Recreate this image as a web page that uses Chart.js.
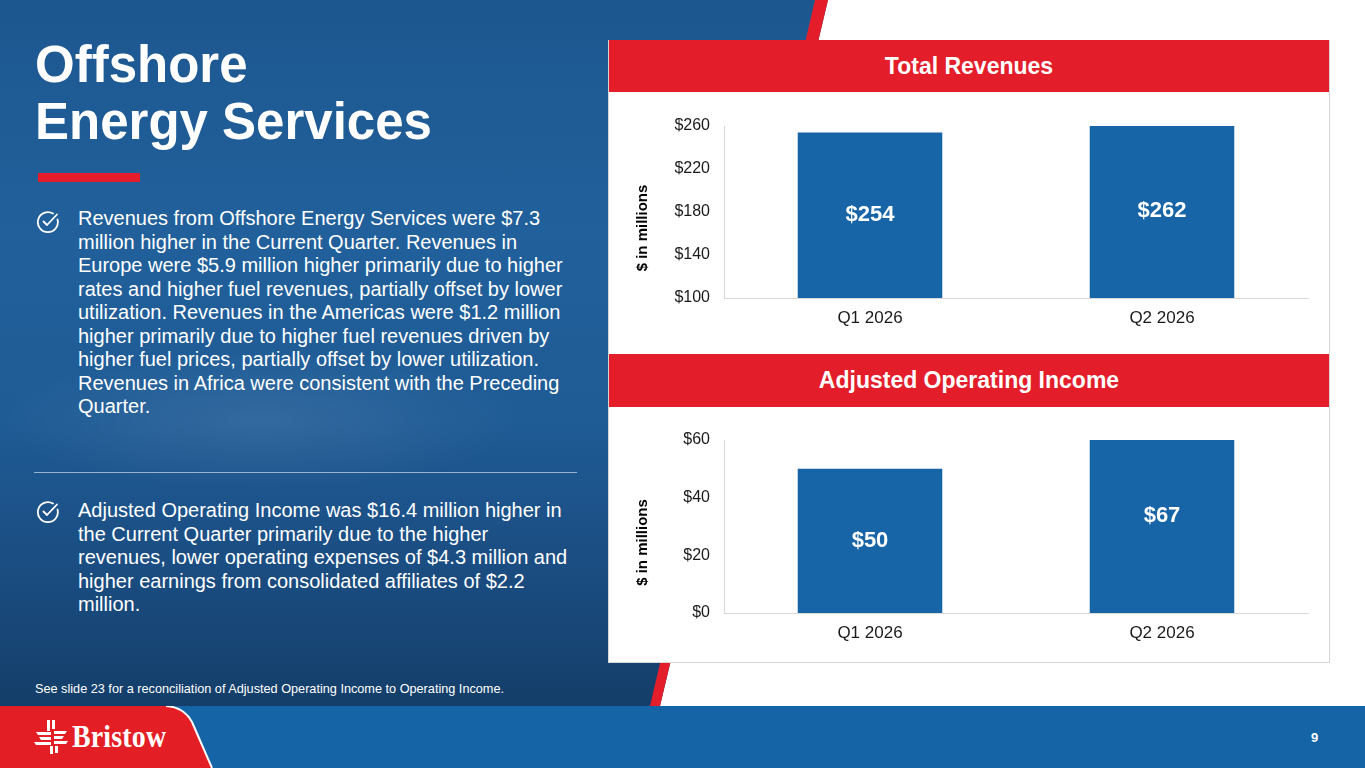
<!DOCTYPE html>
<html>
<head>
<meta charset="utf-8">
<title>Offshore Energy Services</title>
<script src="https://cdn.jsdelivr.net/npm/chart.js@4.4.1/dist/chart.umd.min.js"></script>
<style>
  html, body { margin: 0; padding: 0; }
  body {
    width: 1365px; height: 768px; overflow: hidden; position: relative;
    font-family: "Liberation Sans", Arial, sans-serif; color: #fff;
    background: linear-gradient(180deg, #1d5790 0%, #21609b 30%, #1f5b95 55%, #1a4c80 75%, #143e69 92%);
  }
  .abs { position: absolute; }
  #bg { left: 0; top: 0; }
  .title { left: 35px; top: 36px; font-size: 51px; line-height: 57px; font-weight: bold; }
  .rule { left: 38px; top: 173px; width: 102px; height: 9px; background: #e31e2a; }
  .para { left: 78px; font-size: 20px; line-height: 23.5px; }
  .check { left: 36px; width: 24px; height: 24px; }
  .divider { left: 34px; top: 472px; width: 543px; height: 1px; background: rgba(190, 212, 234, 0.75); }
  .foot { left: 35px; top: 682px; font-size: 12.7px; line-height: 14px; }
  .panel { left: 608px; top: 40px; width: 720px; height: 621px; background: #fff; border: 1px solid #d6d6d6; }
  .hdr {
    left: 609px; width: 720px; background: #e31e2a; color: #fff; font-weight: bold; font-size: 23px;
    display: flex; align-items: center; justify-content: center;
  }
  canvas { position: absolute; }
  .band { left: 0; top: 706px; width: 1365px; height: 62px; }
  .brand { left: 72px; top: 719px; font-family: "Liberation Serif", serif; font-weight: bold; font-size: 31px;
    transform: scaleX(0.9); transform-origin: left top; letter-spacing: 0.2px; }
  .page { left: 1311px; top: 730px; font-size: 13px; font-weight: bold; }
</style>
</head>
<body>

<svg id="bg" class="abs" width="1365" height="768">
  <defs>
    <radialGradient id="glow" cx="0.5" cy="0.5" r="0.5">
      <stop offset="0" stop-color="#ffffff" stop-opacity="0.09"></stop>
      <stop offset="1" stop-color="#ffffff" stop-opacity="0"></stop>
    </radialGradient>
  </defs>
  <ellipse cx="260" cy="420" rx="260" ry="70" fill="url(#glow)"></ellipse>
  <polygon points="828,0 1365,0 1365,706 660,706" fill="#ffffff"></polygon>
  <polygon points="815,0 828,0 660,706 650,706" fill="#e31e2a"></polygon>
</svg>

<div class="abs title">Offshore<br>Energy Services</div>
<div class="abs rule"></div>

<svg class="abs check" style="top:210px" viewBox="0 0 24 24">
  <path d="M21.5 9.5 A10 10 0 1 1 17 3.6" fill="none" stroke="#fff" stroke-width="1.8" stroke-linecap="round"></path>
  <path d="M7.5 11.5 L11 15 L21 4.5" fill="none" stroke="#fff" stroke-width="1.8" stroke-linecap="round" stroke-linejoin="round"></path>
</svg>
<div class="abs para" style="top:207px">Revenues from Offshore Energy Services were $7.3<br>million higher in the Current Quarter. Revenues in<br>Europe were $5.9 million higher primarily due to higher<br>rates and higher fuel revenues, partially offset by lower<br>utilization. Revenues in the Americas were $1.2 million<br>higher primarily due to higher fuel revenues driven by<br>higher fuel prices, partially offset by lower utilization.<br>Revenues in Africa were consistent with the Preceding<br>Quarter.</div>

<div class="abs divider"></div>

<svg class="abs check" style="top:500px" viewBox="0 0 24 24">
  <path d="M21.5 9.5 A10 10 0 1 1 17 3.6" fill="none" stroke="#fff" stroke-width="1.8" stroke-linecap="round"></path>
  <path d="M7.5 11.5 L11 15 L21 4.5" fill="none" stroke="#fff" stroke-width="1.8" stroke-linecap="round" stroke-linejoin="round"></path>
</svg>
<div class="abs para" style="top:499px">Adjusted Operating Income was $16.4 million higher in<br>the Current Quarter primarily due to the higher<br>revenues, lower operating expenses of $4.3 million and<br>higher earnings from consolidated affiliates of $2.2<br>million.</div>

<div class="abs foot">See slide 23 for a reconciliation of Adjusted Operating Income to Operating Income.</div>

<div class="abs panel"></div>
<div class="abs hdr" style="top:40px;height:52px">Total Revenues</div>
<canvas id="revChart" width="722" height="262" style="left:608px;top:92px"></canvas>
<div class="abs hdr" style="top:354px;height:53px">Adjusted Operating Income</div>
<canvas id="aoiChart" width="722" height="256" style="left:608px;top:407px"></canvas>

<svg class="abs band" width="1365" height="62" viewBox="0 0 1365 62">
  <rect x="0" y="0" width="1365" height="62" fill="#1565a6"></rect>
  <path d="M0 0 L166 0 Q184 1 192 16 L212 62 L0 62 Z" fill="#e31e25"></path>
  <path d="M166 0 Q184 1 192 16 L212 62" fill="none" stroke="#ffffff" stroke-width="2"></path>
  <!-- logo mark -->
  <g fill="#ffffff">
    <rect x="47" y="14" width="3" height="11"></rect>
    <rect x="52" y="14" width="3" height="9"></rect>
    <polygon points="36,26 51,26 51,29 38,29"></polygon>
    <polygon points="39,31 51,31 51,34 41,34"></polygon>
    <polygon points="34,36 51,36 51,39 36,39"></polygon>
    <polygon points="54,25 67,25 65,28 54,28"></polygon>
    <polygon points="54,30 64,30 62,33 54,33"></polygon>
    <polygon points="54,35 68,35 66,38 54,38"></polygon>
    <rect x="50" y="40" width="3" height="8"></rect>
    <rect x="55" y="40" width="3" height="7"></rect>
  </g>
</svg>
<div class="abs brand">Bristow</div>
<div class="abs page">9</div>

<script>
const categories = ['Q1 2026', 'Q2 2026'];
const revenueValues = [254, 262];
const incomeValues = [50, 67];
const revenueTicks = [100, 140, 180, 220, 260];
const incomeTicks = [0, 20, 40, 60];

Chart.defaults.font.family = '"Liberation Sans", Arial, sans-serif';

// white value labels in the middle of each bar
const barLabels = {
    id: 'barLabels',
    afterDatasetsDraw(chart) {
        const ctx = chart.ctx;
        const y = chart.scales.y;
        const values = chart.data.datasets[0].data;
        ctx.save();
        ctx.fillStyle = '#ffffff';
        ctx.font = 'bold 22px "Liberation Sans", Arial, sans-serif';
        ctx.textAlign = 'center';
        ctx.textBaseline = 'middle';
        chart.getDatasetMeta(0).data.forEach((bar, i) => {
            ctx.fillText('$' + values[i], bar.x, y.getPixelForValue((y.min + values[i]) / 2));
        });
        ctx.restore();
    },
};

// rotated axis title, sits a little below the middle like the slide
const sideTitle = {
    id: 'sideTitle',
    afterDraw(chart, args, opts) {
        const ctx = chart.ctx;
        const area = chart.chartArea;
        ctx.save();
        ctx.translate(opts.x, (area.top + area.bottom) / 2 + opts.shift);
        ctx.rotate(-Math.PI / 2);
        ctx.fillStyle = '#000000';
        ctx.font = 'bold 15px "Liberation Sans", Arial, sans-serif';
        ctx.textAlign = 'center';
        ctx.textBaseline = 'middle';
        ctx.fillText(opts.text, 0, 0);
        ctx.restore();
    },
};

function makeChart(id, values, ticks, padTop, axisHeight) {
    const ctx = document.getElementById(id).getContext('2d');
    return new Chart(ctx, {
        type: 'bar',
        data: {
            labels: categories,
            datasets: [{
                data: values,
                backgroundColor: '#1764a6',
                borderWidth: 0,
                categoryPercentage: 1,
                barPercentage: 0.495,
            }],
        },
        options: {
            responsive: false,
            animation: false,
            layout: { padding: { left: 0, right: 22, top: padTop, bottom: 0 } },
            plugins: {
                legend: { display: false },
                tooltip: { enabled: false },
                sideTitle: { text: '$ in millions', x: 34.5, shift: 16 },
            },
            scales: {
                x: {
                    grid: { display: false, drawTicks: false },
                    border: { display: true, color: '#d9d9d9', width: 1 },
                    ticks: { color: '#1a1a1a', font: { size: 17 }, padding: 10 },
                    afterFit: scale => { scale.height = axisHeight; },
                },
                y: {
                    min: ticks[0],
                    max: ticks[ticks.length - 1],
                    grid: { display: false, drawTicks: false },
                    border: { display: true, color: '#d9d9d9', width: 1 },
                    ticks: {
                        stepSize: ticks[1] - ticks[0],
                        color: '#1a1a1a',
                        font: { size: 16 },
                        padding: 14,
                        callback: v => '$' + v,
                    },
                    afterFit: scale => { scale.width = 116; },
                },
            },
        },
        plugins: [barLabels, sideTitle],
    });
}

makeChart('revChart', revenueValues, revenueTicks, 34, 56);
makeChart('aoiChart', incomeValues, incomeTicks, 33, 50);
</script>
</body>
</html>
